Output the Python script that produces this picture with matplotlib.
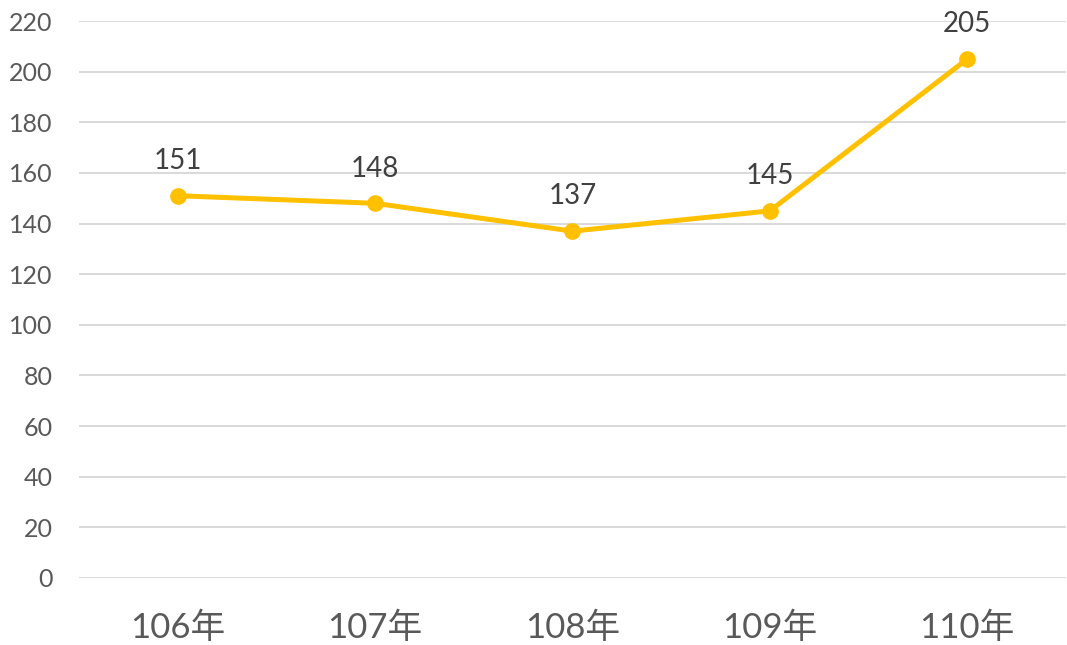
import matplotlib.pyplot as plt
import numpy as np

# data
years = ['106年', '107年', '108年', '109年', '110年']
counts = [151, 148, 137, 145, 205]
yticks = list(range(0, 221, 20))

plt.rcParams['font.family'] = ['Lato', 'Noto Sans CJK TC', 'DejaVu Sans']

fig = plt.figure(figsize=(10.67, 6.45), dpi=100)
ax = fig.add_axes([0.074, 0.1039, 0.925, 0.8635])

x = np.arange(len(years))
ax.plot(x, counts, color='#FFC000', lw=3.6, marker='o', ms=11, zorder=3)

for xi, v in zip(x, counts):
    ax.annotate(str(v), (xi, v), xytext=(0, 25), textcoords='offset points',
                ha='center', va='center', fontsize=20, color='#404040')

ax.set_xlim(-0.5, len(years) - 0.5)
ax.set_ylim(0, 220)
ax.set_yticks(yticks)
ax.set_xticks(x)
ax.set_xticklabels(years, fontsize=25, color='#595959')
ax.tick_params(axis='y', labelsize=18, colors='#595959', length=0, pad=19)
ax.tick_params(axis='x', length=0, pad=24)

ax.grid(axis='y', color='#D9D9D9', lw=1.4)
ax.set_axisbelow(True)
for s in ax.spines.values():
    s.set_visible(False)

fig.savefig('out.png', dpi=100)
